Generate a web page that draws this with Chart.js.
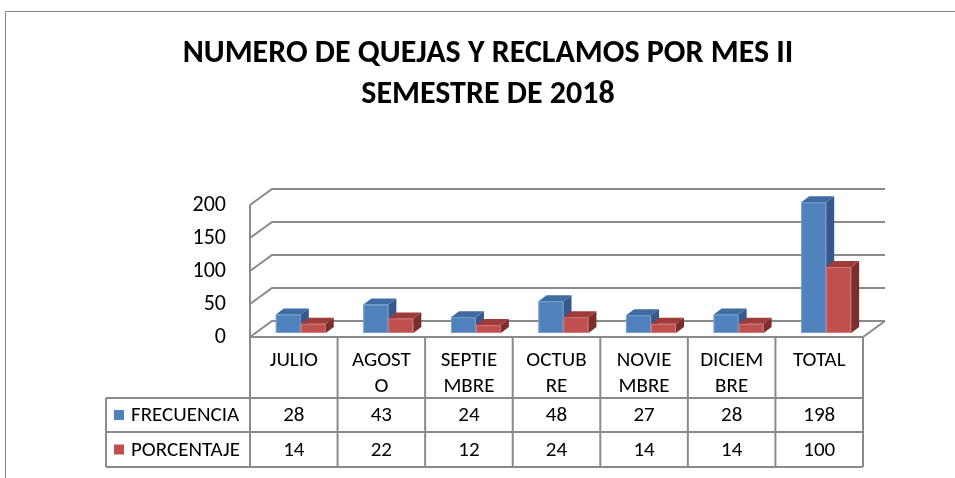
<!DOCTYPE html>
<html>
<head>
<meta charset="utf-8">
<script src="https://cdn.jsdelivr.net/npm/chart.js@4.4.1/dist/chart.umd.min.js"></script>
<style>
  html, body { margin: 0; padding: 0; background: #fff; }
</style>
</head>
<body>
<canvas id="quejas" width="955" height="478"></canvas>
<script>
const meses = [['JULIO'], ['AGOST', 'O'], ['SEPTIE', 'MBRE'], ['OCTUB', 'RE'], ['NOVIE', 'MBRE'], ['DICIEM', 'BRE'], ['TOTAL']];
const frecuencia = [28, 43, 24, 48, 27, 28, 198];
const porcentaje = [14, 22, 12, 24, 14, 14, 100];
const yTicks = [0, 50, 100, 150, 200];

const FUENTE = 'Carlito, Lato, "Open Sans", sans-serif';
const GRIS = '#8a8a8a';

// colores de las caras (frente, lado, arriba)
const caras = [
    { frente: '#4F81BD', lado: '#34598A', arriba: '#3E6CA3' }, // azul
    { frente: '#C0504D', lado: '#7C2E2C', arriba: '#9F3C3A' }, // rojo
];

// desplazamientos de la perspectiva
const DX = 8, DY = 6;       // profundidad de las barras
const PX = 22, PY = 16;     // profundidad de la pared
const FRENTE = 4, FONDO = 12;
const CORRIDO = 7;          // la tabla queda un poco a la izquierda de las barras

function linea(ctx, pts) {
    ctx.beginPath();
    ctx.moveTo(pts[0][0], pts[0][1]);
    for (let i = 1; i < pts.length; i++) ctx.lineTo(pts[i][0], pts[i][1]);
    ctx.stroke();
}

function cara(ctx, pts, color) {
    ctx.beginPath();
    ctx.moveTo(pts[0][0], pts[0][1]);
    for (let i = 1; i < pts.length; i++) ctx.lineTo(pts[i][0], pts[i][1]);
    ctx.closePath();
    ctx.fillStyle = color;
    ctx.fill();
}

const vista3d = {
    id: 'vista3d',
    beforeDraw(chart) {
        const ctx = chart.ctx;
        ctx.save();
        ctx.fillStyle = '#fff';
        ctx.fillRect(0, 0, chart.width, chart.height);
        ctx.strokeStyle = '#888';
        ctx.lineWidth = 1;
        ctx.strokeRect(5.5, 11.5, 1200, 1200);
        ctx.restore();
    },
    beforeDatasetsDraw(chart) {
        const ctx = chart.ctx;
        const y = chart.scales.y, a = chart.chartArea;
        const izq = a.left - CORRIDO, der = a.right - CORRIDO;
        ctx.save();
        ctx.strokeStyle = GRIS;
        ctx.lineWidth = 2;
        yTicks.forEach(v => {
            const fy = y.getPixelForValue(v) + FRENTE;
            const by = y.getPixelForValue(v) - FONDO;
            linea(ctx, [[izq, fy], [izq + PX, by], [der + PX, by]]);
        });
        const piso = y.getPixelForValue(0) + FRENTE;
        linea(ctx, [[izq, piso], [der, piso], [der + PX, piso - PY]]);
        linea(ctx, [[izq, y.getPixelForValue(200) + FRENTE], [izq, piso]]);
        ctx.restore();
    },
    afterDatasetsDraw(chart) {
        const ctx = chart.ctx;
        const metas = [chart.getDatasetMeta(0), chart.getDatasetMeta(1)];
        ctx.save();
        for (let i = 0; i < meses.length; i++) {
            metas.forEach((meta, d) => {
                const bar = meta.data[i];
                const w = bar.width / 2;
                const x0 = bar.x - w, x1 = bar.x + w, top = bar.y, base = bar.base;
                const c = caras[d];
                cara(ctx, [[x0, top], [x1, top], [x1, base], [x0, base]], c.frente);
                cara(ctx, [[x1, top], [x1 + DX, top - DY], [x1 + DX, base - DY], [x1, base]], c.lado);
                cara(ctx, [[x0, top], [x0 + DX, top - DY], [x1 + DX, top - DY], [x1, top]], c.arriba);
                ctx.strokeStyle = 'rgba(255,255,255,0.25)';
                ctx.lineWidth = 1;
                ctx.strokeRect(x0 + 0.5, top + 0.5, x1 - x0 - 1, base - top - 1);
            });
        }
        ctx.restore();
        dibujarTabla(chart);
    }
};

function dibujarTabla(chart) {
    const ctx = chart.ctx;
    const xs = chart.scales.x, y = chart.scales.y;
    const paso = xs.getPixelForValue(1) - xs.getPixelForValue(0);
    const izq = xs.getPixelForValue(0) - paso / 2 - CORRIDO;
    const der = izq + paso * meses.length;
    const t0 = y.getPixelForValue(0) + FRENTE;
    const t1 = t0 + 61, t2 = t1 + 34, t3 = t2 + 35;
    const leyIzq = 106;

    ctx.save();
    ctx.strokeStyle = GRIS;
    ctx.lineWidth = 2;
    for (let k = 0; k <= meses.length; k++) {
        const x = izq + k * paso;
        linea(ctx, [[x, t0], [x, t3]]);
    }
    [t1, t2, t3].forEach(ty => linea(ctx, [[leyIzq, ty], [der, ty]]));
    linea(ctx, [[leyIzq, t1], [leyIzq, t3]]);

    ctx.fillStyle = '#000';
    ctx.font = '21px ' + FUENTE;
    ctx.textAlign = 'center';
    ctx.textBaseline = 'middle';
    meses.forEach((m, k) => {
        const cx = izq + (k + 0.5) * paso;
        m.forEach((txt, j) => ctx.fillText(txt, cx, t0 + 24 + j * 26));
        ctx.fillText(String(frecuencia[k]), cx, (t1 + t2) / 2 + 1);
        ctx.fillText(String(porcentaje[k]), cx, (t2 + t3) / 2 + 1);
    });

    const filas = [[(t1 + t2) / 2, 'FRECUENCIA'], [(t2 + t3) / 2, 'PORCENTAJE']];
    filas.forEach(([fy, txt], d) => {
        ctx.fillStyle = caras[d].frente;
        ctx.fillRect(leyIzq + 8, fy - 5, 10, 10);
        ctx.fillStyle = '#000';
        ctx.textAlign = 'left';
        ctx.fillText(txt, leyIzq + 25, fy + 1);
    });
    ctx.restore();
}

new Chart(document.getElementById('quejas'), {
    type: 'bar',
    data: {
        labels: meses,
        datasets: [
            { label: 'FRECUENCIA', data: frecuencia, backgroundColor: caras[0].frente },
            { label: 'PORCENTAJE', data: porcentaje, backgroundColor: caras[1].frente },
        ]
    },
    options: {
        responsive: false,
        animation: false,
        devicePixelRatio: 1,
        categoryPercentage: 0.57,
        barPercentage: 1,
        layout: { padding: { left: 21, right: 0, top: 0, bottom: 145 } },
        plugins: {
            legend: { display: false },
            tooltip: { enabled: false },
            title: {
                display: true,
                text: ['NUMERO DE QUEJAS Y RECLAMOS POR MES II', 'SEMESTRE DE 2018'],
                color: '#000',
                font: { family: FUENTE, size: 32, weight: 'bold', lineHeight: 41 / 32 },
                padding: { top: 33.5, bottom: 85.5 }
            }
        },
        scales: {
            x: { display: false },
            y: {
                min: 0,
                max: 200,
                afterFit: s => { s.width = 236; },
                afterBuildTicks: s => { s.ticks = yTicks.map(v => ({ value: v })); },
                ticks: {
                    color: '#000',
                    font: { family: FUENTE, size: 22 },
                    padding: 31,
                    labelOffset: 4
                },
                grid: { display: false, drawTicks: false },
                border: { display: false }
            },
            derecha: {
                type: 'linear',
                position: 'right',
                afterFit: s => { s.width = 85; },
                ticks: { display: false },
                grid: { display: false, drawTicks: false },
                border: { display: false }
            }
        }
    },
    plugins: [vista3d]
});
</script>
</body>
</html>
